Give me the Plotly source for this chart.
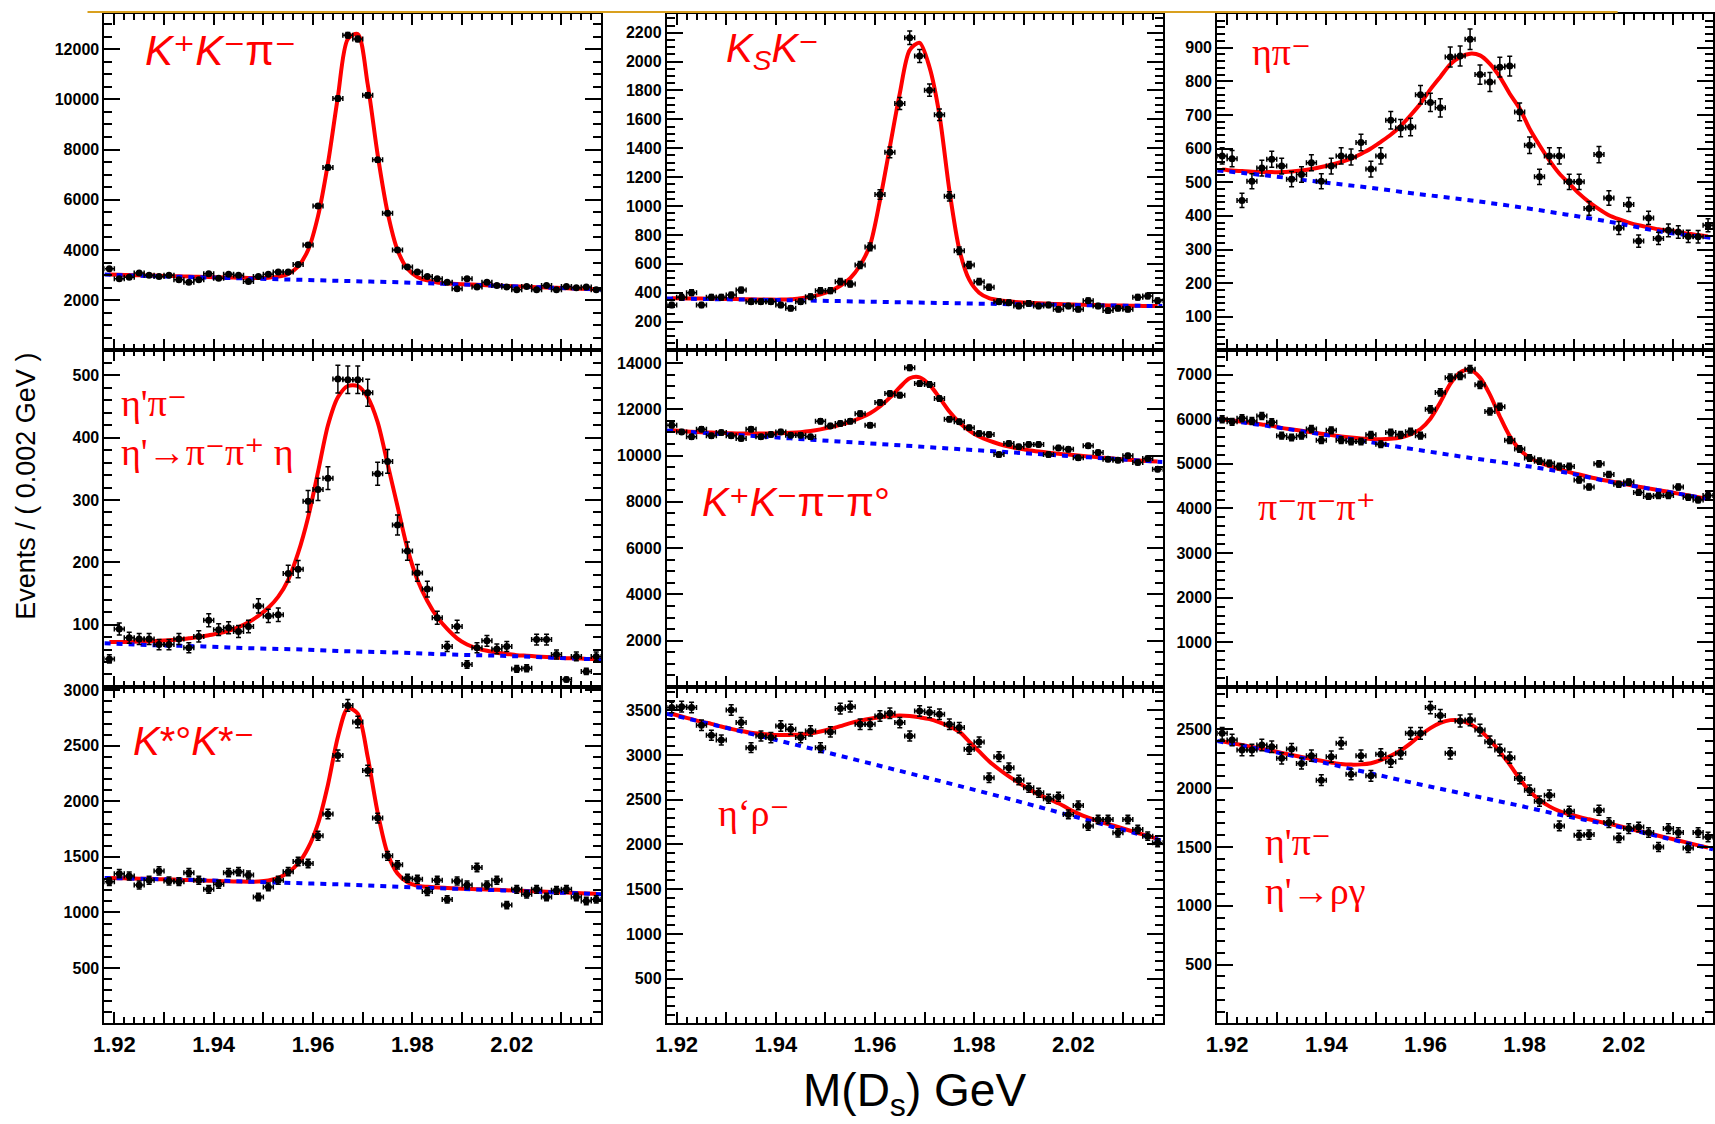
import plotly.graph_objects as go

# ---------------- data ----------------
mass_bins = [1.919, 1.921, 1.923, 1.925, 1.927, 1.929, 1.931, 1.933, 1.935, 1.937,
             1.939, 1.941, 1.943, 1.945, 1.947, 1.949, 1.951, 1.953, 1.955, 1.957,
             1.959, 1.961, 1.963, 1.965, 1.967, 1.969, 1.971, 1.973, 1.975, 1.977,
             1.979, 1.981, 1.983, 1.985, 1.987, 1.989, 1.991, 1.993, 1.995, 1.997,
             1.999, 2.001, 2.003, 2.005, 2.007, 2.009, 2.011, 2.013, 2.015, 2.017]
bkg_x = [1.918, 1.928, 1.938, 1.948, 1.958, 1.968, 1.978, 1.988, 1.998, 2.008, 2.018]

# tick labels as printed on the original: the tick at 2.00 carries the text "2.02"
x_tick_alias = {"2.00": "2.02"}

# K+K-pi-
kkpi_counts = [3250, 2856, 2920, 3080, 2990, 2950, 2990, 2815, 2720, 2815,
               3050, 2880, 3030, 2990, 2750, 2950, 3030, 3120, 3120, 3420,
               4200, 5750, 7290, 10030, 12550, 12400, 10160, 7590, 5460, 4000,
               3320, 3120, 2950, 2856, 2720, 2460, 2856, 2530, 2720, 2590,
               2530, 2420, 2550, 2420, 2590, 2420, 2550, 2500, 2530, 2420]
kkpi_fit = [3020, 3010, 3000, 2992, 2985, 2975, 2965, 2955, 2945, 2935,
            2925, 2915, 2905, 2898, 2890, 2888, 2900, 2940, 3050, 3350,
            4000, 5350, 7450, 10100, 12400, 12600, 10600, 7800, 5500, 4000,
            3250, 2930, 2790, 2710, 2670, 2645, 2630, 2614, 2598, 2583,
            2565, 2550, 2536, 2521, 2507, 2493, 2479, 2465, 2451, 2437]
kkpi_bkg = [3020, 2960, 2910, 2860, 2810, 2760, 2710, 2640, 2570, 2500, 2430]
kkpi_yticks = [2000, 4000, 6000, 8000, 10000, 12000]

# KsK-
ksk_counts = [315, 368, 400, 315, 368, 368, 384, 418, 338, 338,
              338, 315, 292, 338, 372, 414, 414, 476, 460, 591,
              717, 1080, 1372, 1710, 2165, 2039, 1802, 1632, 1067, 690,
              591, 476, 437, 338, 331, 308, 326, 308, 315, 285,
              308, 285, 345, 308, 276, 292, 285, 368, 377, 345]
ksk_fit = [362, 361, 360, 359, 358, 357, 356, 355, 354, 353,
           352, 352, 354, 362, 372, 388, 412, 448, 500, 590,
           730, 1040, 1410, 1780, 2080, 2130, 1960, 1630, 1110, 700,
           490, 400, 362, 348, 340, 334, 330, 327, 324, 321,
           319, 317, 315, 314, 312, 311, 310, 309, 308, 307]
ksk_bkg = [360, 355, 350, 345, 338, 332, 326, 320, 315, 311, 307]
ksk_yticks = [200, 400, 600, 800, 1000, 1200, 1400, 1600, 1800, 2000, 2200]

# eta pi-
etapi_counts = [578, 570, 446, 503, 542, 568, 548, 509, 523, 558,
                503, 548, 578, 575, 618, 539, 578, 684, 661, 664,
                760, 737, 721, 872, 875, 925, 820, 798, 842, 845,
                709, 610, 516, 578, 578, 501, 501, 422, 582, 453,
                364, 434, 325, 394, 333, 357, 352, 339, 338, 372]
etapi_fit = [538, 535, 533, 531, 530, 530, 530, 532, 535, 539,
             545, 552, 560, 570, 584, 600, 620, 641, 667, 699,
             734, 776, 813, 850, 872, 882, 877, 852, 813, 763,
             719, 659, 610, 565, 526, 496, 466, 441, 420, 402,
             390, 380, 372, 366, 360, 356, 352, 347, 343, 339]
etapi_bkg = [535, 520, 502, 485, 466, 448, 428, 405, 380, 352, 334]
etapi_yticks = [100, 200, 300, 400, 500, 600, 700, 800, 900]

# eta' pi- (eta' -> pi pi eta)
etappi_counts = [45, 93, 79, 77, 77, 68, 68, 77, 63, 81,
                 107, 92, 95, 89, 97, 130, 114, 116, 182, 189,
                 298, 317, 335, 494, 493, 493, 472, 342, 362, 260,
                 218, 183, 157, 111, 65, 97, 36, 63, 74, 61,
                 65, 29, 30, 76, 76, 52, 12, 49, 25, 49]
etappi_fit = [72, 72, 72, 73, 73, 74, 75, 76, 78, 80,
              83, 86, 90, 96, 104, 114, 127, 145, 172, 215,
              272, 345, 420, 465, 483, 483, 465, 425, 358, 290,
              222, 172, 138, 112, 93, 78, 68, 62, 58, 55,
              53, 51, 50, 49, 48, 47, 46, 46, 45, 45]
etappi_bkg = [70, 67, 65, 62, 60, 57, 55, 52, 50, 47, 44]
etappi_yticks = [100, 200, 300, 400, 500]

# K+K-pi-pi0
kkpipi0_counts = [11310, 11020, 10810, 11140, 10850, 10990, 10850, 10740, 11140, 10810,
                  10910, 11020, 10880, 10880, 10810, 11480, 11280, 11380, 11480, 11810,
                  11310, 12290, 12680, 12610, 13790, 13110, 13070, 12460, 11570, 11460,
                  11200, 10950, 10910, 10040, 10520, 10380, 10480, 10480, 10040, 10330,
                  10270, 9900, 10420, 10130, 9840, 9800, 9990, 9700, 9870, 9410]
kkpipi0_fit = [11090, 11060, 11030, 11010, 10990, 10975, 10960, 10955, 10950, 10948,
               10950, 10960, 10980, 11010, 11060, 11130, 11220, 11330, 11460, 11620,
               11830, 12120, 12500, 12950, 13340, 13380, 13060, 12500, 11900, 11430,
               11080, 10820, 10640, 10500, 10390, 10300, 10230, 10175, 10125, 10080,
               10040, 10000, 9960, 9925, 9890, 9855, 9820, 9790, 9760, 9740]
kkpipi0_bkg = [11080, 10944, 10808, 10672, 10536, 10400, 10264, 10128, 9992, 9856, 9720]
kkpipi0_yticks = [2000, 4000, 6000, 8000, 10000, 12000, 14000]

# pi-pi-pi+
pipipi_counts = [6000, 5940, 6020, 5960, 6070, 5930, 5630, 5590, 5630, 5780,
                 5530, 5750, 5530, 5500, 5500, 5650, 5440, 5700, 5650, 5720,
                 5630, 6220, 6600, 6930, 6970, 7120, 6770, 6170, 6280, 5530,
                 5330, 5130, 5060, 5010, 4940, 4940, 4640, 4480, 5000, 4760,
                 4540, 4590, 4360, 4270, 4290, 4290, 4480, 4250, 4190, 4290]
pipipi_fit = [6000, 5972, 5942, 5914, 5882, 5850, 5805, 5772, 5740, 5708,
              5676, 5645, 5615, 5590, 5570, 5558, 5552, 5560, 5590, 5660,
              5780, 6010, 6380, 6790, 7050, 7110, 6930, 6550, 6060, 5620,
              5320, 5140, 5030, 4950, 4880, 4815, 4760, 4705, 4655, 4615,
              4575, 4530, 4488, 4450, 4410, 4372, 4332, 4292, 4252, 4212]
pipipi_bkg = [6000, 5850, 5680, 5500, 5320, 5150, 4990, 4810, 4580, 4390, 4190]
pipipi_yticks = [1000, 2000, 3000, 4000, 5000, 6000, 7000]

# K*0 K*-
kstkst_counts = [1277, 1349, 1328, 1247, 1289, 1373, 1283, 1277, 1358, 1289,
                 1208, 1253, 1358, 1367, 1337, 1139, 1229, 1289, 1367, 1458,
                 1440, 1690, 1886, 2413, 2864, 2714, 2277, 1849, 1509, 1428,
                 1307, 1298, 1187, 1289, 1117, 1283, 1247, 1404, 1247, 1289,
                 1066, 1208, 1163, 1208, 1139, 1199, 1208, 1139, 1103, 1117]
kstkst_fit = [1310, 1308, 1305, 1304, 1302, 1299, 1297, 1294, 1291, 1288,
              1285, 1283, 1280, 1278, 1276, 1278, 1288, 1310, 1360, 1440,
              1580, 1800, 2150, 2580, 2840, 2790, 2400, 1900, 1530, 1350,
              1272, 1240, 1230, 1224, 1220, 1216, 1212, 1209, 1206, 1203,
              1199, 1196, 1192, 1189, 1186, 1182, 1178, 1174, 1170, 1167]
kstkst_bkg = [1310, 1300, 1290, 1275, 1262, 1248, 1230, 1214, 1198, 1181, 1163]
kstkst_yticks = [500, 1000, 1500, 2000, 2500, 3000]

# eta' rho-
etaprho_counts = [3530, 3540, 3530, 3332, 3220, 3168, 3503, 3362, 3082, 3212,
                  3194, 3324, 3287, 3194, 3268, 3082, 3257, 3518, 3540, 3343,
                  3343, 3436, 3466, 3362, 3212, 3492, 3474, 3455, 3343, 3306,
                  3063, 3145, 2746, 2981, 2858, 2720, 2634, 2578, 2511, 2533,
                  2336, 2436, 2205, 2280, 2280, 2130, 2280, 2168, 2093, 2018]
etaprho_fit = [3460, 3430, 3400, 3370, 3348, 3318, 3292, 3268, 3248, 3236,
               3228, 3222, 3225, 3230, 3240, 3262, 3290, 3322, 3355, 3382,
               3405, 3422, 3435, 3440, 3435, 3420, 3400, 3365, 3320, 3260,
               3150, 3040, 2930, 2840, 2760, 2690, 2620, 2560, 2510, 2460,
               2400, 2345, 2300, 2262, 2228, 2195, 2162, 2128, 2096, 2062]
etaprho_bkg = [3460, 3330, 3195, 3060, 2920, 2780, 2640, 2495, 2345, 2195, 2040]
etaprho_yticks = [500, 1000, 1500, 2000, 2500, 3000, 3500]

# eta' pi- (eta' -> rho gamma)
etappig_counts = [2466, 2409, 2324, 2324, 2366, 2352, 2253, 2332, 2210, 2276,
                  2068, 2267, 2381, 2117, 2276, 2105, 2287, 2224, 2296, 2466,
                  2466, 2685, 2617, 2296, 2571, 2580, 2494, 2395, 2324, 2259,
                  2082, 1983, 1889, 1940, 1679, 1804, 1600, 1605, 1813, 1707,
                  1577, 1656, 1670, 1622, 1500, 1656, 1622, 1492, 1622, 1585]
etappig_fit = [2398, 2382, 2366, 2350, 2335, 2318, 2300, 2282, 2265, 2248,
               2232, 2218, 2205, 2200, 2202, 2212, 2238, 2275, 2320, 2380,
               2450, 2510, 2555, 2578, 2575, 2545, 2490, 2410, 2310, 2200,
               2080, 1975, 1900, 1845, 1805, 1778, 1755, 1735, 1715, 1697,
               1678, 1657, 1636, 1616, 1595, 1575, 1555, 1535, 1514, 1494]
etappig_bkg = [2400, 2320, 2230, 2135, 2040, 1950, 1860, 1765, 1680, 1580, 1480]
etappig_yticks = [500, 1000, 1500, 2000, 2500]

panel_labels = [
    "<i>K</i>⁺<i>K</i>⁻π⁻",
    "<i>K<sub>S</sub>K</i>⁻",
    "ηπ⁻",
    "η'π⁻<br>η'→π⁻π⁺ η",
    "<i>K</i>⁺<i>K</i>⁻π⁻π°",
    "π⁻π⁻π⁺",
    "<i>K</i>*°<i>K</i>*⁻",
    "η‘ρ⁻",
    "η'π⁻<br>η'→ργ",
]

# ---------------- styling / layout ----------------
W, H = 1715, 1124
col_px = [(94, 594), (660, 1159), (1214, 1713)]
row_px = [(9, 347), (347, 685), (685, 1023)]
SANS = "Liberation Sans, Arial, DejaVu Sans, sans-serif"
SERIF = "Liberation Serif, DejaVu Serif, serif"

panels = [
    dict(counts=kkpi_counts, fit=kkpi_fit, bkg=kkpi_bkg, yt=kkpi_yticks, ymax=13400, minor=500,
         lab=(133, 46), font=(SANS, 42)),
    dict(counts=ksk_counts, fit=ksk_fit, bkg=ksk_bkg, yt=ksk_yticks, ymax=2330, minor=50,
         lab=(718, 46), font=(SANS, 40)),
    dict(counts=etapi_counts, fit=etapi_fit, bkg=etapi_bkg, yt=etapi_yticks, ymax=1000, minor=20,
         lab=(1247, 47), font=(SERIF, 38)),
    dict(counts=etappi_counts, fit=etappi_fit, bkg=etappi_bkg, yt=etappi_yticks, ymax=540, minor=20,
         lab=(109, 424), font=(SERIF, 38)),
    dict(counts=kkpipi0_counts, fit=kkpipi0_fit, bkg=kkpipi0_bkg, yt=kkpipi0_yticks, ymax=14540, minor=500,
         lab=(693, 499), font=(SANS, 40)),
    dict(counts=pipipi_counts, fit=pipipi_fit, bkg=pipipi_bkg, yt=pipipi_yticks, ymax=7540, minor=200,
         lab=(1253, 504), font=(SERIF, 38)),
    dict(counts=kstkst_counts, fit=kstkst_fit, bkg=kstkst_bkg, yt=kstkst_yticks, ymax=3030, minor=100,
         lab=(121, 739), font=(SANS, 40)),
    dict(counts=etaprho_counts, fit=etaprho_fit, bkg=etaprho_bkg, yt=etaprho_yticks, ymax=3760, minor=100,
         lab=(710, 812), font=(SERIF, 38)),
    dict(counts=etappig_counts, fit=etappig_fit, bkg=etappig_bkg, yt=etappig_yticks, ymax=2860, minor=100,
         lab=(1260, 865), font=(SERIF, 38)),
]

fig = go.Figure()
layout = dict(
    width=W, height=H, autosize=False,
    margin=dict(l=0, r=0, t=0, b=0),
    paper_bgcolor="white", plot_bgcolor="white",
    showlegend=False,
    font=dict(family=SANS, color="black"),
)
annotations = []

for i, p in enumerate(panels):
    r, c = divmod(i, 3)
    n = "" if i == 0 else str(i + 1)
    xa, ya = "x" + n, "y" + n
    x0, x1 = col_px[c]
    y0, y1 = row_px[r]

    fig.add_trace(go.Scatter(
        x=mass_bins, y=p["fit"], mode="lines", xaxis=xa, yaxis=ya,
        line=dict(color="#ff0000", width=4, shape="spline", smoothing=0.8),
        hoverinfo="skip"))
    fig.add_trace(go.Scatter(
        x=bkg_x, y=p["bkg"], mode="lines", xaxis=xa, yaxis=ya,
        line=dict(color="#0000ff", width=4, dash="6px,6px", shape="spline"),
        hoverinfo="skip"))
    fig.add_trace(go.Scatter(
        x=mass_bins, y=p["counts"], mode="markers", xaxis=xa, yaxis=ya,
        marker=dict(color="black", size=7, symbol="circle"),
        error_y=dict(type="sqrt", color="black", thickness=1.5, width=2.5),
        error_x=dict(type="constant", value=0.001, color="black", thickness=1.5, width=2.5)))

    layout["xaxis" + n] = dict(
        domain=[x0 / W, x1 / W], anchor=ya, range=[1.918, 2.018],
        tickmode="linear", tick0=1.92, dtick=0.01, tickformat=".2f",
        ticklabelstep=2, labelalias=x_tick_alias,
        showticklabels=(r == 2),
        tickfont=dict(family=SANS, size=22, color="black", weight="bold"),
        ticks="inside", ticklen=11, tickwidth=1.5, tickcolor="black",
        minor=dict(tickmode="linear", tick0=1.92, dtick=0.002, ticks="inside",
                   ticklen=6, tickwidth=1.5, tickcolor="black"),
        showline=True, linewidth=2, linecolor="black", mirror="ticks",
        showgrid=False, zeroline=False, fixedrange=True)
    layout["yaxis" + n] = dict(
        domain=[1 - y1 / H, 1 - y0 / H], anchor=xa, range=[0, p["ymax"]],
        tickmode="array", tickvals=p["yt"], ticktext=[str(v) for v in p["yt"]],
        tickfont=dict(family=SANS, size=16, color="black", weight="bold"),
        ticks="inside", ticklen=16, tickwidth=1.5, tickcolor="black",
        minor=dict(tickmode="linear", tick0=0, dtick=p["minor"], ticks="inside",
                   ticklen=8, tickwidth=1.5, tickcolor="black"),
        showline=True, linewidth=2, linecolor="black", mirror="ticks",
        showgrid=False, zeroline=False, fixedrange=True)

    lx, ly = p["lab"]
    fam, size = p["font"]
    annotations.append(dict(
        x=lx / W, y=1 - ly / H, xref="paper", yref="paper",
        xanchor="left", yanchor="middle", showarrow=False, align="left",
        text=panel_labels[i], font=dict(family=fam, size=size, color="#ff0000")))

annotations.append(dict(
    x=909 / W, y=1 - 1093 / H, xref="paper", yref="paper",
    xanchor="center", yanchor="middle", showarrow=False,
    text="M(D<sub>s</sub>) GeV", font=dict(family=SANS, size=46, color="black")))
annotations.append(dict(
    x=15 / W, y=1 - 483 / H, xref="paper", yref="paper",
    xanchor="center", yanchor="middle", showarrow=False, textangle=-90,
    text="Events / ( 0.002 GeV )", font=dict(family=SANS, size=27, color="black")))

layout["annotations"] = annotations
layout["shapes"] = [dict(type="line", xref="paper", yref="paper",
                         x0=77 / W, x1=1617 / W, y0=1 - 7 / H, y1=1 - 7 / H,
                         line=dict(color="#d9a01e", width=2))]
fig.update_layout(**layout)

fig.write_html("out.html", config={"displayModeBar": False},
               post_script="document.body.style.margin='0';")
